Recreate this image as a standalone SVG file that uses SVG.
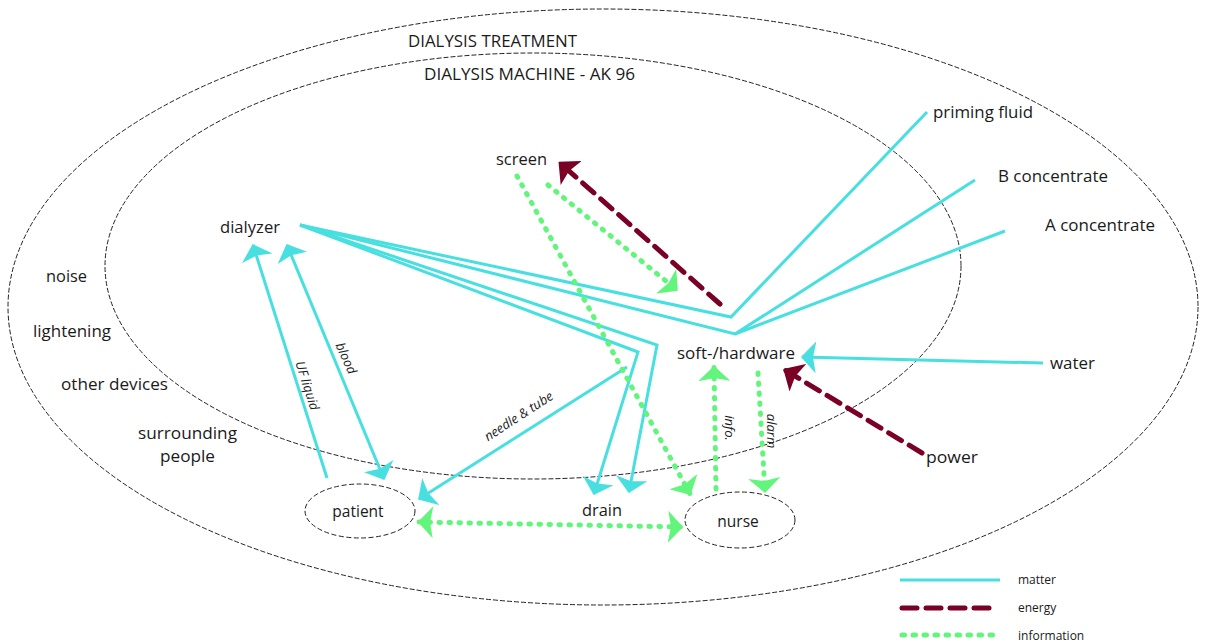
<svg xmlns="http://www.w3.org/2000/svg" width="1206" height="643" viewBox="0 0 1206 643">
<style>
  text { font-family: "Open Sans", "Noto Sans", "DejaVu Sans", sans-serif; fill: #1a1a1a; }
  .t { font-size: 15.5px; }
  .lbl { font-size: 13px; font-style: italic; }
  .leg { font-size: 12px; }
  .bound { fill: none; stroke: #222; stroke-width: 1; stroke-dasharray: 5 2; }
  .node { fill: #fff; stroke: #222; stroke-width: 1; stroke-dasharray: 5 2.5; }
  .matter { fill: none; stroke: #48dfe0; stroke-width: 3; stroke-linejoin: miter; }
  .energy { fill: none; stroke: #7a0026; stroke-width: 5; stroke-dasharray: 15 9; stroke-linecap: round; }
  .info { fill: none; stroke: #62f57c; stroke-width: 5; stroke-dasharray: 1.5 8.5; stroke-linecap: round; }
</style>
<defs>
  <marker id="mC" viewBox="0 0 15 32" refX="14" refY="16" markerWidth="15" markerHeight="32" markerUnits="userSpaceOnUse" orient="auto-start-reverse">
    <path d="M0,0 L15,16 L0,32 L3,16 z" fill="#48dfe0"/>
  </marker>
  <marker id="mE" viewBox="0 0 17 32" refX="15" refY="16" markerWidth="17" markerHeight="32" markerUnits="userSpaceOnUse" orient="auto-start-reverse">
    <path d="M0,0 L17,16 L0,32 L3,16 z" fill="#7a0026"/>
  </marker>
  <marker id="mI" viewBox="0 0 15 32" refX="14" refY="16" markerWidth="15" markerHeight="32" markerUnits="userSpaceOnUse" orient="auto-start-reverse">
    <path d="M0,0 L15,16 L0,32 L3,16 z" fill="#62f57c"/>
  </marker>
</defs>

<g id="boundaries">
  <ellipse cx="603" cy="307" rx="595" ry="298" class="bound"/>
  <ellipse cx="533" cy="266" rx="428" ry="213" class="bound"/>
  <text class="t" x="408" y="47" textLength="169" lengthAdjust="spacingAndGlyphs">DIALYSIS TREATMENT</text>
  <text class="t" x="424" y="80" textLength="211" lengthAdjust="spacingAndGlyphs">DIALYSIS MACHINE - AK 96</text>
</g>

<g id="connectors">
  <!-- matter -->
  <polyline class="matter" points="300,225 731,317 927,112"/>
  <polyline class="matter" points="300,225 735,334 975,180"/>
  <polyline class="matter" points="735,334 1005,231"/>
  <polyline class="matter" points="300,225 638,352 594,494" marker-end="url(#mC)"/>
  <polyline class="matter" points="300,225 657,345 629,492" marker-end="url(#mC)"/>
  <line class="matter" x1="327" y1="478" x2="253" y2="245" marker-end="url(#mC)"/>
  <line class="matter" x1="287" y1="245" x2="384" y2="479" marker-start="url(#mC)" marker-end="url(#mC)"/>
  <line class="matter" x1="627" y1="367" x2="419" y2="499" marker-end="url(#mC)"/>
  <line class="matter" x1="1043" y1="363" x2="802" y2="357" marker-end="url(#mC)"/>
  <!-- energy -->
  <line class="energy" x1="922" y1="453" x2="785" y2="370" marker-end="url(#mE)"/>
  <line class="energy" x1="720" y1="304" x2="560" y2="163" marker-end="url(#mE)"/>
  <!-- information -->
  <line class="info" x1="548" y1="185" x2="677" y2="290" marker-end="url(#mI)"/>
  <line class="info" x1="517" y1="176" x2="690" y2="494" marker-end="url(#mI)"/>
  <line class="info" x1="716" y1="489" x2="714" y2="367" marker-end="url(#mI)"/>
  <line class="info" x1="758" y1="373" x2="765" y2="492" marker-end="url(#mI)"/>
  <line class="info" x1="419" y1="522" x2="682" y2="527" marker-start="url(#mI)" marker-end="url(#mI)"/>
  <!-- labels -->
  <text class="lbl" text-anchor="middle" transform="translate(303,387) rotate(72)">UF liquid</text>
  <text class="lbl" text-anchor="middle" transform="translate(342,360) rotate(66)">blood</text>
  <text class="lbl" text-anchor="middle" transform="translate(521,420) rotate(-33)">needle &amp; tube</text>
  <text class="lbl" text-anchor="middle" transform="translate(725,428) rotate(90)">info.</text>
  <text class="lbl" text-anchor="middle" transform="translate(767,431) rotate(90)">alarm</text>
</g>

<g id="screen"><text class="t" x="496" y="165" textLength="51" lengthAdjust="spacingAndGlyphs">screen</text></g>
<g id="dialyzer"><text class="t" x="220" y="233" textLength="60" lengthAdjust="spacingAndGlyphs">dialyzer</text></g>
<g id="priming-fluid"><text class="t" x="933" y="118" textLength="100" lengthAdjust="spacingAndGlyphs">priming fluid</text></g>
<g id="b-concentrate"><text class="t" x="998" y="182" textLength="110" lengthAdjust="spacingAndGlyphs">B concentrate</text></g>
<g id="a-concentrate"><text class="t" x="1045" y="231" textLength="110" lengthAdjust="spacingAndGlyphs">A concentrate</text></g>
<g id="software-hardware"><text class="t" x="677" y="359" textLength="118" lengthAdjust="spacingAndGlyphs">soft-/hardware</text></g>
<g id="water"><text class="t" x="1050" y="369" textLength="45" lengthAdjust="spacingAndGlyphs">water</text></g>
<g id="power"><text class="t" x="926" y="463" textLength="52" lengthAdjust="spacingAndGlyphs">power</text></g>
<g id="noise"><text class="t" x="46" y="282" textLength="41" lengthAdjust="spacingAndGlyphs">noise</text></g>
<g id="lightening"><text class="t" x="33" y="337" textLength="78" lengthAdjust="spacingAndGlyphs">lightening</text></g>
<g id="other-devices"><text class="t" x="61" y="390" textLength="107" lengthAdjust="spacingAndGlyphs">other devices</text></g>
<g id="surrounding-people">
  <text class="t" x="138" y="439" textLength="99" lengthAdjust="spacingAndGlyphs">surrounding</text>
  <text class="t" x="160" y="462" textLength="55" lengthAdjust="spacingAndGlyphs">people</text>
</g>
<g id="patient">
  <ellipse cx="360" cy="511" rx="55" ry="27" class="node"/>
  <text class="t" x="358" y="517" text-anchor="middle">patient</text>
</g>
<g id="drain"><text class="t" x="582" y="516" textLength="40" lengthAdjust="spacingAndGlyphs">drain</text></g>
<g id="nurse">
  <ellipse cx="740" cy="520" rx="55" ry="28" class="node"/>
  <text class="t" x="738" y="527" text-anchor="middle">nurse</text>
</g>

<g id="legend">
  <line x1="900" y1="580" x2="1000" y2="580" stroke="#48dfe0" stroke-width="3"/>
  <line x1="902" y1="608" x2="995" y2="608" stroke="#7a0026" stroke-width="5" stroke-dasharray="15 9" stroke-linecap="round"/>
  <line x1="902" y1="635" x2="997" y2="635" stroke="#62f57c" stroke-width="5" stroke-dasharray="2.5 8.5" stroke-linecap="round"/>
  <text class="leg" x="1018" y="584">matter</text>
  <text class="leg" x="1018" y="612">energy</text>
  <text class="leg" x="1018" y="640">information</text>
</g>
</svg>
